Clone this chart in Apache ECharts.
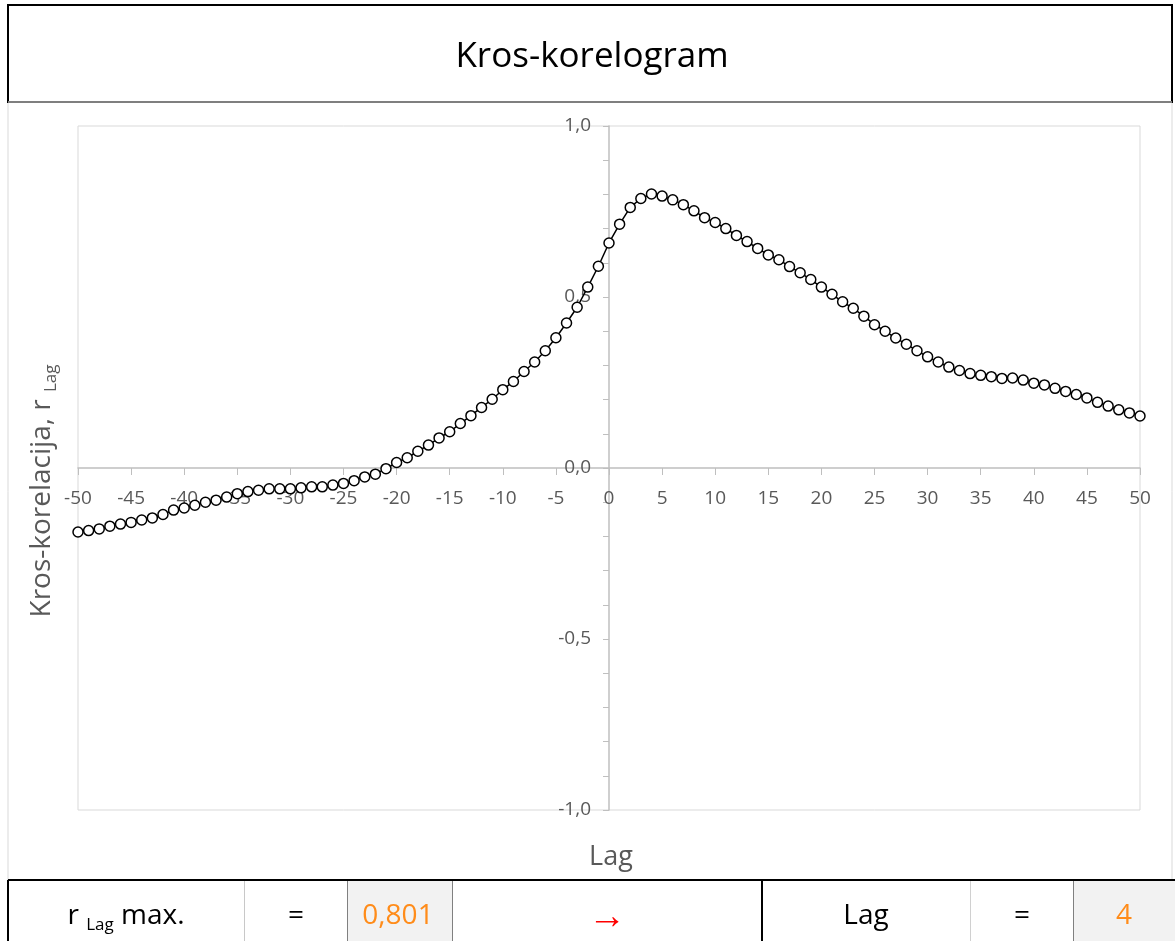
<!DOCTYPE html>
<html>
<head>
<meta charset="utf-8">
<title>Kros-korelogram</title>
<script src="https://cdn.jsdelivr.net/npm/echarts@6/dist/echarts.min.js"></script>
<style>
  html, body { margin: 0; padding: 0; background: #fff; }
  #chart { width: 1175px; height: 941px; }
</style>
</head>
<body>
<div id="chart"></div>
<script>
// lag values (x)
var lags = [
  -50, -49, -48, -47, -46, -45, -44, -43, -42, -41,
  -40, -39, -38, -37, -36, -35, -34, -33, -32, -31,
  -30, -29, -28, -27, -26, -25, -24, -23, -22, -21,
  -20, -19, -18, -17, -16, -15, -14, -13, -12, -11,
  -10, -9, -8, -7, -6, -5, -4, -3, -2, -1,
  0, 1, 2, 3, 4, 5, 6, 7, 8, 9,
  10, 11, 12, 13, 14, 15, 16, 17, 18, 19,
  20, 21, 22, 23, 24, 25, 26, 27, 28, 29,
  30, 31, 32, 33, 34, 35, 36, 37, 38, 39,
  40, 41, 42, 43, 44, 45, 46, 47, 48, 49,
  50
]

// cross-correlation r_Lag
var rLag = [
  -0.187, -0.183, -0.178, -0.170, -0.164, -0.159, -0.152, -0.146, -0.136, -0.123,
  -0.117, -0.109, -0.100, -0.094, -0.085, -0.075, -0.069, -0.065, -0.061, -0.061,
  -0.061, -0.058, -0.055, -0.055, -0.050, -0.045, -0.037, -0.026, -0.018, -0.002,
  0.016, 0.030, 0.049, 0.067, 0.088, 0.106, 0.130, 0.153, 0.177, 0.201,
  0.229, 0.253, 0.282, 0.310, 0.343, 0.381, 0.424, 0.470, 0.529, 0.590,
  0.658, 0.713, 0.762, 0.788, 0.801, 0.795, 0.784, 0.770, 0.752, 0.732,
  0.718, 0.700, 0.680, 0.662, 0.642, 0.623, 0.609, 0.589, 0.571, 0.551,
  0.529, 0.508, 0.486, 0.467, 0.444, 0.419, 0.400, 0.380, 0.362, 0.343,
  0.325, 0.310, 0.295, 0.285, 0.276, 0.271, 0.267, 0.262, 0.263, 0.257,
  0.248, 0.243, 0.233, 0.224, 0.215, 0.205, 0.192, 0.181, 0.170, 0.161,
  0.152
]

// summary row under the chart
var rMaxText = '0,801'
var lagMaxText = '4'

var FONT = '"Open Sans", "Noto Sans", sans-serif'
var GRAY = '#595959'
var ORANGE = '#ff8c1a'

// plot box (the axes cross at 0,0 in the middle of it)
var G_LEFT = 78, G_RIGHT = 35, G_TOP = 126, G_BOTTOM = 131
var G_W = 1175 - G_LEFT - G_RIGHT
var G_H = 941 - G_TOP - G_BOTTOM

function vline(x, y1, y2, color, w) {
  return { type: 'line', shape: { x1: x, y1: y1, x2: x, y2: y2 }, style: { stroke: color, lineWidth: w || 1 }, silent: true }
}
function hline(y, x1, x2, color, w) {
  return { type: 'line', shape: { x1: x1, y1: y, x2: x2, y2: y }, style: { stroke: color, lineWidth: w || 1 }, silent: true }
}
function cellText(x, y, text, color, size) {
  return {
    type: 'text', x: x, y: y, silent: true,
    style: { text: text, fill: color || '#000', fontFamily: FONT, fontSize: size || 28, align: 'center', verticalAlign: 'middle' }
  }
}

var chart = echarts.init(document.getElementById('chart'))

var graphics = [
  // title box
  { type: 'rect', shape: { x: 8, y: 5, width: 1164, height: 97 }, style: { fill: '#fff', stroke: '#000', lineWidth: 2 }, silent: true },
  hline(102, 8, 1172, '#7f7f7f', 2),
  {
    type: 'text', x: 592, y: 57, silent: true,
    style: { text: 'Kros-korelogram', fill: '#000', fontFamily: FONT, fontSize: 35, align: 'center', verticalAlign: 'middle' }
  },
  // chart area side borders
  vline(8, 103, 880, '#d9d9d9'),
  vline(1172, 103, 880, '#d9d9d9'),
  // axis names
  {
    type: 'text', x: 42, y: 491, rotation: Math.PI / 2, silent: true,
    style: {
      text: '{a|Kros-korelacija, r }{s|Lag}', align: 'center', verticalAlign: 'middle',
      rich: {
        a: { fontFamily: FONT, fontSize: 28, fill: GRAY, lineHeight: 36 },
        s: { fontFamily: FONT, fontSize: 17, fill: GRAY, lineHeight: 36, verticalAlign: 'bottom' }
      }
    }
  },
  {
    type: 'text', x: 611, y: 857, silent: true,
    style: { text: 'Lag', fill: GRAY, fontFamily: FONT, fontSize: 27, align: 'center', verticalAlign: 'middle' }
  },
  // summary table
  { type: 'rect', shape: { x: 347, y: 881, width: 105, height: 60 }, style: { fill: '#f2f2f2' }, silent: true },
  { type: 'rect', shape: { x: 1073, y: 881, width: 102, height: 60 }, style: { fill: '#f2f2f2' }, silent: true },
  hline(880, 8, 1175, '#000', 2),
  vline(8, 880, 941, '#000', 2),
  vline(244.5, 881, 941, '#c8c8c8'),
  vline(347.5, 881, 941, '#808080'),
  vline(452.5, 881, 941, '#808080'),
  vline(762, 881, 941, '#000', 2),
  vline(970.5, 881, 941, '#d0d0d0'),
  vline(1073.5, 881, 941, '#808080'),
  {
    type: 'text', x: 126, y: 916, silent: true,
    style: {
      text: '{a|r }{s|Lag}{a| max.}', align: 'center', verticalAlign: 'middle',
      rich: {
        a: { fontFamily: FONT, fontSize: 28, fill: '#000', lineHeight: 36 },
        s: { fontFamily: FONT, fontSize: 17, fill: '#000', lineHeight: 36, verticalAlign: 'bottom' }
      }
    }
  },
  cellText(296, 916, '='),
  cellText(398, 916, rMaxText, ORANGE),
  cellText(607, 917, '→', '#ff0000', 38),
  cellText(866, 916, 'Lag'),
  cellText(1022, 916, '='),
  cellText(1124, 916, lagMaxText, ORANGE)
]

chart.setOption({
  animation: false,
  backgroundColor: '#fff',
  textStyle: { fontFamily: FONT },
  grid: {
    left: G_LEFT,
    right: G_RIGHT,
    top: G_TOP,
    bottom: G_BOTTOM,
    show: true,
    borderColor: '#d9d9d9',
    borderWidth: 1,
    backgroundColor: 'transparent'
  },
  xAxis: {
    type: 'value',
    min: -50,
    max: 50,
    interval: 5,
    position: 'bottom',
    offset: -G_H / 2,
    axisLine: { onZero: false, lineStyle: { color: '#bfbfbf', width: 1.5 } },
    axisTick: { show: true, length: 7, lineStyle: { color: '#bfbfbf' } },
    axisLabel: { color: GRAY, fontSize: 19, margin: 21, formatter: function (v) { return String(v) } },
    splitLine: { show: false }
  },
  yAxis: {
    type: 'value',
    min: -1,
    max: 1,
    interval: 0.5,
    position: 'left',
    offset: -G_W / 2,
    axisLine: { onZero: false, lineStyle: { color: '#bfbfbf', width: 1.5 } },
    axisTick: { show: true, length: 6, lineStyle: { color: '#bfbfbf' } },
    minorTick: { show: true, splitNumber: 5, length: 6, lineStyle: { color: '#bfbfbf' } },
    axisLabel: {
      color: GRAY, fontSize: 19, margin: 18,
      formatter: function (v) { return v.toFixed(1).replace('.', ',') }
    },
    splitLine: { show: false }
  },
  series: [{
    name: 'r Lag',
    type: 'line',
    data: lags.map(function (l, i) { return [l, rLag[i]] }),
    symbol: 'circle',
    symbolSize: 10,
    showAllSymbol: true,
    itemStyle: { color: '#fff', borderColor: '#000', borderWidth: 1.5 },
    lineStyle: { color: '#000', width: 1.5 },
    z: 3
  }],
  graphic: graphics
})
</script>
</body>
</html>
